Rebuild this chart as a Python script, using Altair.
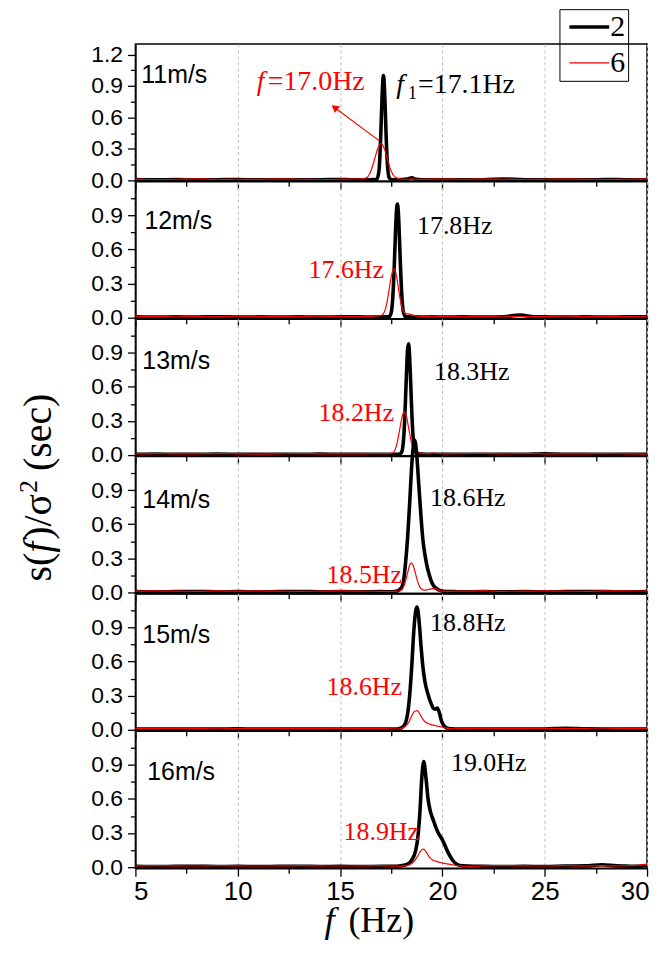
import altair as alt
import pandas as pd

SANS = "Liberation Sans"
SERIF = "Liberation Serif"

SERIES = ["2", "6"]
SERIES_COLORS = ["#000000", "#ff0000"]
SERIES_WIDTHS = [3.6, 1.2]
SPEEDS = ["11m/s", "12m/s", "13m/s", "14m/s", "15m/s", "16m/s"]

F11 = [5, 6, 7, 8, 9, 10, 11, 12, 13, 14, 15, 15.5, 16, 16.3, 16.5, 16.7, 16.8, 16.9, 16.95, 17.0, 17.05, 17.12,
       17.2, 17.25, 17.3, 17.4, 17.5, 17.7, 18.0, 18.3, 18.5, 18.7, 19, 20, 21, 22, 23, 24, 25, 26, 27, 28, 29, 30]
B11 = [0.008, 0.005, 0.007, 0.005, 0.006, 0.007, 0.005, 0.006, 0.005, 0.006, 0.007, 0.006, 0.005, 0.005, 0.006,
       0.008, 0.012, 0.09, 0.24, 0.49, 0.78, 1.0, 0.73, 0.43, 0.2, 0.025, 0.008, 0.006, 0.007, 0.012, 0.025, 0.01,
       0.006, 0.005, 0.006, 0.006, 0.012, 0.006, 0.006, 0.005, 0.005, 0.007, 0.006, 0.006]
R11 = [0.012, 0.008, 0.01, 0.014, 0.008, 0.01, 0.009, 0.012, 0.01, 0.008, 0.01, 0.012, 0.015, 0.025, 0.087, 0.21,
       0.28, 0.33, 0.345, 0.35, 0.345, 0.32, 0.28, 0.25, 0.21, 0.145, 0.087, 0.03, 0.012, 0.01, 0.014, 0.01, 0.009,
       0.012, 0.01, 0.012, 0.01, 0.008, 0.01, 0.012, 0.009, 0.008, 0.01, 0.012]

F12 = [5, 6, 7, 8, 9, 10, 11, 12, 13, 14, 15, 16,
       16.5, 16.9, 17.1, 17.3, 17.4, 17.5, 17.6, 17.65, 17.7, 17.75, 17.8, 17.85, 17.9, 17.95, 18.0, 18.1, 18.2,
       18.4, 18.6, 18.8, 19.0, 19.5,
       20, 21, 22, 23, 23.8, 24.5, 25, 26, 27, 28, 29, 30]
B12 = [0.006, 0.005, 0.006, 0.005, 0.007, 0.005, 0.006, 0.005, 0.006, 0.005, 0.006, 0.006,
       0.005, 0.005, 0.006, 0.006, 0.008, 0.044, 0.25, 0.46, 0.71, 0.92, 1.0, 0.92, 0.71, 0.46, 0.25, 0.044, 0.008,
       0.006, 0.005, 0.006, 0.005, 0.006,
       0.005, 0.006, 0.005, 0.008, 0.022, 0.007, 0.006, 0.005, 0.006, 0.005, 0.006, 0.006]
R12 = [0.01, 0.008, 0.012, 0.01, 0.009, 0.012, 0.01, 0.008, 0.01, 0.012, 0.01, 0.01,
       0.01, 0.014, 0.03, 0.14, 0.25, 0.36, 0.425, 0.43, 0.41, 0.37, 0.32, 0.26, 0.2, 0.15, 0.105, 0.055, 0.035,
       0.03, 0.02, 0.012, 0.008, 0.01,
       0.01, 0.009, 0.01, 0.012, 0.01, 0.008, 0.01, 0.012, 0.009, 0.01, 0.008, 0.012]

F13 = [5, 6, 7, 8, 9, 10, 11, 12, 13, 14, 15, 16, 17,
       17.4, 17.6, 17.8, 17.9, 18.0, 18.1, 18.15, 18.2, 18.25, 18.3, 18.35, 18.4, 18.45, 18.5, 18.6, 18.7, 18.8,
       19.0, 19.3, 19.6, 20,
       21, 22, 23, 24, 25, 26, 27, 28, 29, 30]
B13 = [0.006, 0.007, 0.005, 0.006, 0.008, 0.006, 0.005, 0.006, 0.005, 0.007, 0.006, 0.005, 0.006,
       0.005, 0.006, 0.006, 0.008, 0.02, 0.13, 0.28, 0.5, 0.74, 0.93, 0.98, 0.86, 0.64, 0.4, 0.095, 0.025, 0.012,
       0.008, 0.006, 0.005, 0.006,
       0.005, 0.006, 0.005, 0.006, 0.01, 0.006, 0.005, 0.006, 0.005, 0.006]
R13 = [0.01, 0.012, 0.009, 0.01, 0.012, 0.01, 0.008, 0.01, 0.012, 0.01, 0.009, 0.01, 0.012,
       0.012, 0.022, 0.115, 0.21, 0.31, 0.373, 0.38, 0.366, 0.335, 0.29, 0.24, 0.19, 0.14, 0.1, 0.045, 0.025, 0.018,
       0.015, 0.012, 0.016, 0.01,
       0.012, 0.014, 0.01, 0.012, 0.01, 0.009, 0.01, 0.012, 0.01, 0.008]

F14 = [5, 6, 7, 8, 9, 10, 11, 12, 13, 14, 15, 16, 17,
       17.5, 17.8, 18.0, 18.1, 18.2, 18.3, 18.4, 18.47, 18.55, 18.65, 18.75, 18.85, 18.95, 19.05, 19.15, 19.25,
       19.35, 19.5, 19.7, 19.9, 20.2, 20.6,
       21, 22, 23, 24, 25, 26, 27, 28, 29, 30]
B14 = [0.006, 0.005, 0.006, 0.007, 0.005, 0.006, 0.005, 0.006, 0.007, 0.005, 0.006, 0.005, 0.006,
       0.005, 0.012, 0.04, 0.1, 0.26, 0.48, 0.78, 1.02, 1.24, 1.34, 1.2, 0.94, 0.68, 0.46, 0.33, 0.23,
       0.16, 0.08, 0.035, 0.015, 0.007, 0.006,
       0.005, 0.006, 0.005, 0.006, 0.005, 0.006, 0.007, 0.006, 0.005, 0.006]
R14 = [0.01, 0.012, 0.01, 0.009, 0.012, 0.01, 0.012, 0.01, 0.009, 0.01, 0.012, 0.01, 0.009,
       0.008, 0.01, 0.02, 0.05, 0.1, 0.17, 0.24, 0.26, 0.245, 0.19, 0.12, 0.065, 0.035, 0.022, 0.02, 0.022,
       0.026, 0.032, 0.028, 0.012, 0.008, 0.01,
       0.01, 0.012, 0.009, 0.01, 0.012, 0.01, 0.009, 0.012, 0.014, 0.01]

F15 = [5, 6, 7, 8, 9, 10, 11, 12, 13, 14, 15, 16, 17,
       17.5, 17.8, 18.0, 18.2, 18.3, 18.4, 18.5, 18.6, 18.7, 18.76, 18.85, 18.95, 19.05, 19.15, 19.3, 19.45,
       19.55, 19.65, 19.75, 19.85, 19.95, 20.1, 20.3, 20.6,
       21, 22, 23, 24, 25, 26, 27, 28, 29, 30]
B15 = [0.006, 0.005, 0.006, 0.005, 0.006, 0.007, 0.005, 0.006, 0.005, 0.006, 0.005, 0.006, 0.006,
       0.006, 0.006, 0.015, 0.06, 0.14, 0.3, 0.55, 0.86, 1.05, 1.08, 0.98, 0.75, 0.55, 0.42, 0.31, 0.23,
       0.19, 0.18, 0.19, 0.15, 0.08, 0.03, 0.01, 0.006,
       0.006, 0.005, 0.006, 0.005, 0.006, 0.012, 0.008, 0.006, 0.005, 0.006]
R15 = [0.01, 0.009, 0.012, 0.01, 0.008, 0.01, 0.012, 0.01, 0.009, 0.01, 0.012, 0.01, 0.009,
       0.008, 0.006, 0.012, 0.03, 0.05, 0.08, 0.12, 0.155, 0.165, 0.167, 0.155, 0.12, 0.09, 0.07, 0.055, 0.045,
       0.04, 0.036, 0.032, 0.028, 0.024, 0.018, 0.012, 0.008,
       0.01, 0.012, 0.01, 0.009, 0.012, 0.01, 0.012, 0.014, 0.01, 0.012]

F16 = [5, 6, 7, 8, 9, 10, 11, 12, 13, 14, 15, 16, 17,
       17.5, 18.0, 18.3, 18.5, 18.7, 18.8, 18.9, 19.0, 19.09, 19.2, 19.3, 19.4, 19.5, 19.6, 19.7, 19.8, 19.9,
       20.0, 20.1, 20.3, 20.5, 20.7, 21.0, 21.5,
       22, 23, 24, 25, 26, 27, 27.8, 28.5, 29, 29.5, 30]
B16 = [0.006, 0.005, 0.006, 0.007, 0.005, 0.006, 0.005, 0.006, 0.007, 0.005, 0.006, 0.005, 0.006,
       0.006, 0.012, 0.025, 0.06, 0.15, 0.26, 0.48, 0.8, 0.93, 0.78, 0.6, 0.5, 0.44, 0.39, 0.34, 0.3, 0.27,
       0.24, 0.2, 0.12, 0.06, 0.025, 0.01, 0.006,
       0.006, 0.005, 0.006, 0.005, 0.008, 0.01, 0.02, 0.01, 0.008, 0.006, 0.012]
R16 = [0.01, 0.012, 0.01, 0.009, 0.012, 0.01, 0.009, 0.01, 0.012, 0.01, 0.009, 0.01, 0.012,
       0.008, 0.008, 0.015, 0.03, 0.07, 0.1, 0.13, 0.152, 0.157, 0.135, 0.105, 0.08, 0.065, 0.055, 0.05, 0.045,
       0.04, 0.036, 0.032, 0.025, 0.02, 0.012, 0.008, 0.006,
       0.01, 0.012, 0.01, 0.009, 0.012, 0.01, 0.012, 0.01, 0.012, 0.015, 0.025]

FREQS = [F11, F12, F13, F14, F15, F16]
BLACK = [B11, B12, B13, B14, B15, B16]
RED = [R11, R12, R13, R14, R15, R16]

PEAK_BLACK = ["17.1Hz", "17.8Hz", "18.3Hz", "18.6Hz", "18.8Hz", "19.0Hz"]
PEAK_RED = ["17.0Hz", "17.6Hz", "18.2Hz", "18.5Hz", "18.6Hz", "18.9Hz"]

X_TICKS = [5, 7.5, 10, 12.5, 15, 17.5, 20, 22.5, 25, 27.5, 30]
Y_TICKS = [0, 0.15, 0.3, 0.45, 0.6, 0.75, 0.9, 1.05, 1.2]
Y_MAX = [1.3, 1.2, 1.2, 1.2, 1.2, 1.2]

# annotation anchors (data units)
SPEED_X = [5.29, 5.44, 5.34, 5.34, 5.34, 5.58]
SPEED_Y = [1.00, 0.85, 0.83, 0.81, 0.83, 0.84]
BLACK_X = [17.74, 18.76, 19.59, 19.40, 19.40, 20.42]
BLACK_Y = [0.91, 0.81, 0.73, 0.83, 0.94, 0.92]
RED_X = [10.93, 13.46, 13.95, 14.34, 14.34, 15.17]
RED_Y = [0.94, 0.42, 0.37, 0.15, 0.38, 0.31]
ARROW_X = [16.92, 14.73]
ARROW_Y = [0.376, 0.695]

W, H = 514, 138

rows = []
for speed, F, B, R in zip(SPEEDS, FREQS, BLACK, RED):
    for f, v in zip(F, B):
        rows.append((speed, SERIES[0], f, v))
    for f, v in zip(F, R):
        rows.append((speed, SERIES[1], f, v))
df = pd.DataFrame(rows, columns=["speed", "series", "f", "s"])

XS = alt.Scale(domain=[5, 30], nice=False, zero=False)
MAJOR_X = "datum.value % 5 === 0"
MAJOR_Y = "round(datum.value * 100) % 30 === 0"


def xaxis(bottom):
    kw = dict(values=X_TICKS, title=None, labels=bottom,
              labelExpr=f"{MAJOR_X} ? format(datum.value, 'd') : ''",
              labelFont=SANS, labelFontSize=26, labelColor="black", labelPadding=2,
              labelOverlap=False, labelFlush=bottom,
              grid=True, gridColor="#bdbdbd", gridDash=[3, 3], gridWidth=1,
              gridOpacity={"condition": {"test": MAJOR_X, "value": 1}, "value": 0},
              tickColor="black", tickWidth=1.3,
              tickSize={"condition": {"test": MAJOR_X, "value": 8}, "value": 5},
              domainColor="black", domainWidth=1.5)
    if bottom:
        kw["labelFlushOffset"] = 2
    return alt.Axis(**kw)


def yaxis(top):
    vals = Y_TICKS if top else Y_TICKS[:-1]
    return alt.Axis(values=vals, title=None, grid=False,
                    labelExpr=f"{MAJOR_Y} ? format(datum.value, '.1f') : ''",
                    labelFont=SANS, labelFontSize=23, labelColor="black", labelPadding=5,
                    labelOverlap=False,
                    tickColor="black", tickWidth=1.3,
                    tickSize={"condition": {"test": MAJOR_Y, "value": 8}, "value": 5},
                    domainColor="black", domainWidth=1.5)


LEGEND = alt.Legend(title=None, orient="none", legendX=426, legendY=-35, offset=0,
                    symbolType="M-2,0H2", symbolSize=400, symbolOffset=12,
                    labelFont=SERIF, labelFontSize=30, labelColor="black", labelOffset=6,
                    strokeColor="black", padding=3, rowPadding=6)


def enc_xy(ys, xa, ya, xf="f", yf="s"):
    return dict(x=alt.X(f"{xf}:Q", scale=XS, axis=xa), y=alt.Y(f"{yf}:Q", scale=ys, axis=ya))


def data_text(x, y, text, ys, xa, ya, size, color, font, style="normal", dx=0, dy=0):
    d = pd.DataFrame({"f": [x], "s": [y], "t": [text]})
    return alt.Chart(d).mark_text(align="left", baseline="middle", font=font, fontSize=size,
                                  color=color, fontStyle=style, dx=dx, dy=dy).encode(
        text="t:N", **enc_xy(ys, xa, ya))


def pix_text(px, py, text, size, style="normal", angle=0, font=SERIF):
    d = pd.DataFrame({"t": [text]})
    return alt.Chart(d).mark_text(align="left", baseline="middle", font=font, fontSize=size,
                                  fontStyle=style, angle=angle, color="black").encode(
        x=alt.value(px), y=alt.value(py), text="t:N")


panels = []
for i, speed in enumerate(SPEEDS):
    top = i == 0
    bottom = i == len(SPEEDS) - 1
    ys = alt.Scale(domain=[-0.01, Y_MAX[i]], nice=False, zero=False)
    xa = xaxis(bottom)
    ya = yaxis(top)
    lines = alt.Chart(df).transform_filter(alt.datum.speed == speed).mark_line(
        interpolate="monotone").encode(
        color=alt.Color("series:N", scale=alt.Scale(domain=SERIES, range=SERIES_COLORS),
                        legend=LEGEND if top else None),
        strokeWidth=alt.StrokeWidth("series:N", scale=alt.Scale(domain=SERIES, range=SERIES_WIDTHS),
                                    legend=LEGEND if top else None),
        **enc_xy(ys, xa, ya),
    )
    layers = [lines,
              data_text(SPEED_X[i], SPEED_Y[i], speed, ys, xa, ya, 25, "black", SANS)]
    if top:
        layers += [
            data_text(BLACK_X[i], BLACK_Y[i], "f", ys, xa, ya, 28, "black", SERIF, style="italic"),
            data_text(BLACK_X[i], BLACK_Y[i], "1", ys, xa, ya, 18, "black", SERIF, dx=12, dy=9),
            data_text(BLACK_X[i], BLACK_Y[i], "=" + PEAK_BLACK[i], ys, xa, ya, 28, "black", SERIF, dx=22),
            data_text(RED_X[i], RED_Y[i], "f", ys, xa, ya, 28, "red", SERIF, style="italic"),
            data_text(RED_X[i], RED_Y[i], "=" + PEAK_RED[i], ys, xa, ya, 28, "red", SERIF, dx=11),
        ]
        arrow = pd.DataFrame({"f": [ARROW_X[0]], "s": [ARROW_Y[0]],
                              "f2": [ARROW_X[1]], "s2": [ARROW_Y[1]]})
        layers += [
            alt.Chart(arrow).mark_rule(color="red", strokeWidth=1.2).encode(
                x2="f2:Q", y2="s2:Q", **enc_xy(ys, xa, ya)),
            alt.Chart(arrow).mark_point(shape="triangle-up", filled=True, color="red", opacity=1,
                                        size=70, angle=307).encode(
                **enc_xy(ys, xa, ya, xf="f2", yf="s2")),
        ]
    else:
        layers += [
            data_text(BLACK_X[i], BLACK_Y[i], PEAK_BLACK[i], ys, xa, ya, 26, "black", SERIF),
            data_text(RED_X[i], RED_Y[i], PEAK_RED[i], ys, xa, ya, 26, "red", SERIF),
        ]
    if i == 3:
        # rotated y-axis title, reading bottom to top
        layers += [
            pix_text(-97, 126, "s(", 40, angle=270),
            pix_text(-97, 97, "f", 40, style="italic", angle=270),
            pix_text(-97, 84, ")/σ", 40, angle=270),
            pix_text(-107, 37, "2", 26, angle=270),
            pix_text(-97, 15, "(sec)", 40, angle=270),
        ]
    if bottom:
        layers += [
            pix_text(190, 191, "f", 37, style="italic"),
            pix_text(214, 191, "(Hz)", 36),
        ]
    panels.append(alt.layer(*layers).properties(width=W, height=H))

chart = alt.vconcat(*panels, spacing=0, bounds="flush").resolve_legend(
    color="independent", strokeWidth="independent"
).properties(
    padding={"left": 7, "top": -3, "right": 0, "bottom": 0}
).configure_view(stroke="black", strokeWidth=1.5)

chart.save("out.html", embed_options={"renderer": "svg", "actions": False})
